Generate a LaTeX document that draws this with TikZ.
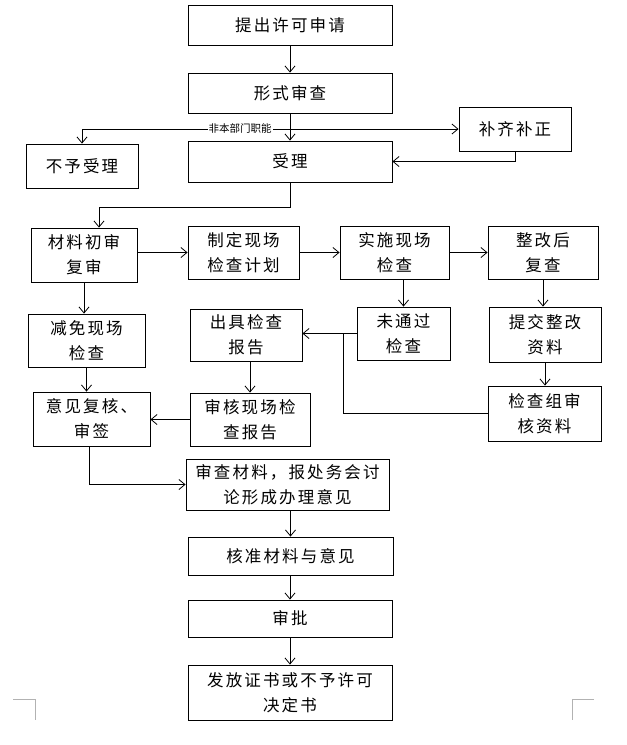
\documentclass[tikz,border=0pt]{standalone}
\usepackage{fontspec}
\usetikzlibrary{arrows.meta,calc}
\newfontfamily\cjk[LetterSpace=13]{Noto Sans CJK SC}
\newfontfamily\cjksmall{Noto Sans CJK SC}
\tikzset{
  box/.style={draw, line width=0.9pt, rectangle, align=center, inner sep=0pt,
    font=\cjk\fontsize{16.5}{25}\selectfont},
  arr/.style={draw, line width=0.8pt, -{Straight Barb[length=6pt,width=10pt]}},
  ln/.style={draw, line width=0.8pt},
  corner/.style={draw=gray!60, line width=0.8pt}
}
\begin{document}
\begin{tikzpicture}[x=1pt,y=-1pt]
\useasboundingbox (0,0) rectangle (627,745);
% boxes
\node[box, minimum width=204, minimum height=40] (b1) at (290,25) {提出许可申请};
\node[box, minimum width=204, minimum height=40] (b2) at (290,93) {形式审查};
\node[box, minimum width=112, minimum height=44] (nb) at (82,166) {不予受理};
\node[box, minimum width=204, minimum height=41] (b3) at (290,161.5) {受理};
\node[box, minimum width=112, minimum height=44] (bq) at (515,129) {补齐补正};
\node[box, minimum width=106, minimum height=54] (c1) at (84,255) {材料初审\\复审};
\node[box, minimum width=111, minimum height=53] (c2) at (243.5,252.5) {制定现场\\检查计划};
\node[box, minimum width=109, minimum height=53] (c3) at (394.5,252.5) {实施现场\\检查};
\node[box, minimum width=110, minimum height=53] (c4) at (543,252.5) {整改后\\复查};
\node[box, minimum width=117, minimum height=53] (d1) at (86.5,340.5) {减免现场\\检查};
\node[box, minimum width=112, minimum height=52] (d2) at (246,335) {出具检查\\报告};
\node[box, minimum width=93, minimum height=53] (d3) at (403.5,333.5) {未通过\\检查};
\node[box, minimum width=112, minimum height=55] (d4) at (545,334.5) {提交整改\\资料};
\node[box, minimum width=117, minimum height=54] (e1) at (91.5,419) {意见复核、\\审签};
\node[box, minimum width=120, minimum height=53] (e2) at (250,419.5) {审核现场检\\查报告};
\node[box, minimum width=113, minimum height=55] (e4) at (544.5,413.5) {检查组审\\核资料};
\node[box, minimum width=203, minimum height=51] (f1) at (287.5,484.5) {审查材料，报处务会讨\\论形成办理意见};
\node[box, minimum width=205, minimum height=38] (f2) at (290.5,556) {核准材料与意见};
\node[box, minimum width=204, minimum height=37] (f3) at (290,618.5) {审批};
\node[box, minimum width=204, minimum height=55] (f4) at (290,692.5) {发放证书或不予许可\\决定书};
% helper coordinates
\coordinate (kL) at (82,129);
\coordinate (k1) at (99,207);
\coordinate (k2) at (343,333.5);
% connectors
\draw[arr] (b1.south) -- (b2.north);
\draw[arr] (b2.south) -- (b3.north);
\draw[arr] (kL) -- (nb.north);
\draw[arr] (kL) -- (bq.west);
\node[fill=white, inner sep=1pt, font=\cjksmall\fontsize{10.5}{12}\selectfont] (lab) at (240,128) {非本部门职能};
\draw[arr] (bq.south) |- (b3.east);
\draw[arr] (b3.south) |- (k1) -- (k1 |- c1.north);
\draw[arr] (c1.east |- c2.west) -- (c2.west);
\draw[arr] (c2.east) -- (c3.west);
\draw[arr] (c3.east) -- (c4.west);
\draw[arr] (c1.south) -- (c1.south |- d1.north);
\draw[arr] (d3.north |- c3.south) -- (d3.north);
\draw[arr] (c4.south) -- (c4.south |- d4.north);
\draw[arr] (d3.west) -- (d2.east |- d3.west);
\draw[ln] (e4.west) -| (k2);
\draw[arr] (d4.south) -- (d4.south |- e4.north);
\draw[arr] (d1.south) -- (d1.south |- e1.north);
\draw[arr] (e2.north |- d2.south) -- (e2.north);
\draw[arr] (e2.west) -- (e1.east |- e2.west);
\draw[arr] ($(e1.south)+(-2,0)$) |- (f1.west);
\draw[arr] (f1.south -| f2.north) -- (f2.north);
\draw[arr] (f2.south -| f3.north) -- (f3.north);
\draw[arr] (f3.south) -- (f4.north);
% page corner marks
\draw[corner] (13,699) -- (35,699) -- (35,720);
\draw[corner] (594,699) -- (572,699) -- (572,720);
\end{tikzpicture}
\end{document}
